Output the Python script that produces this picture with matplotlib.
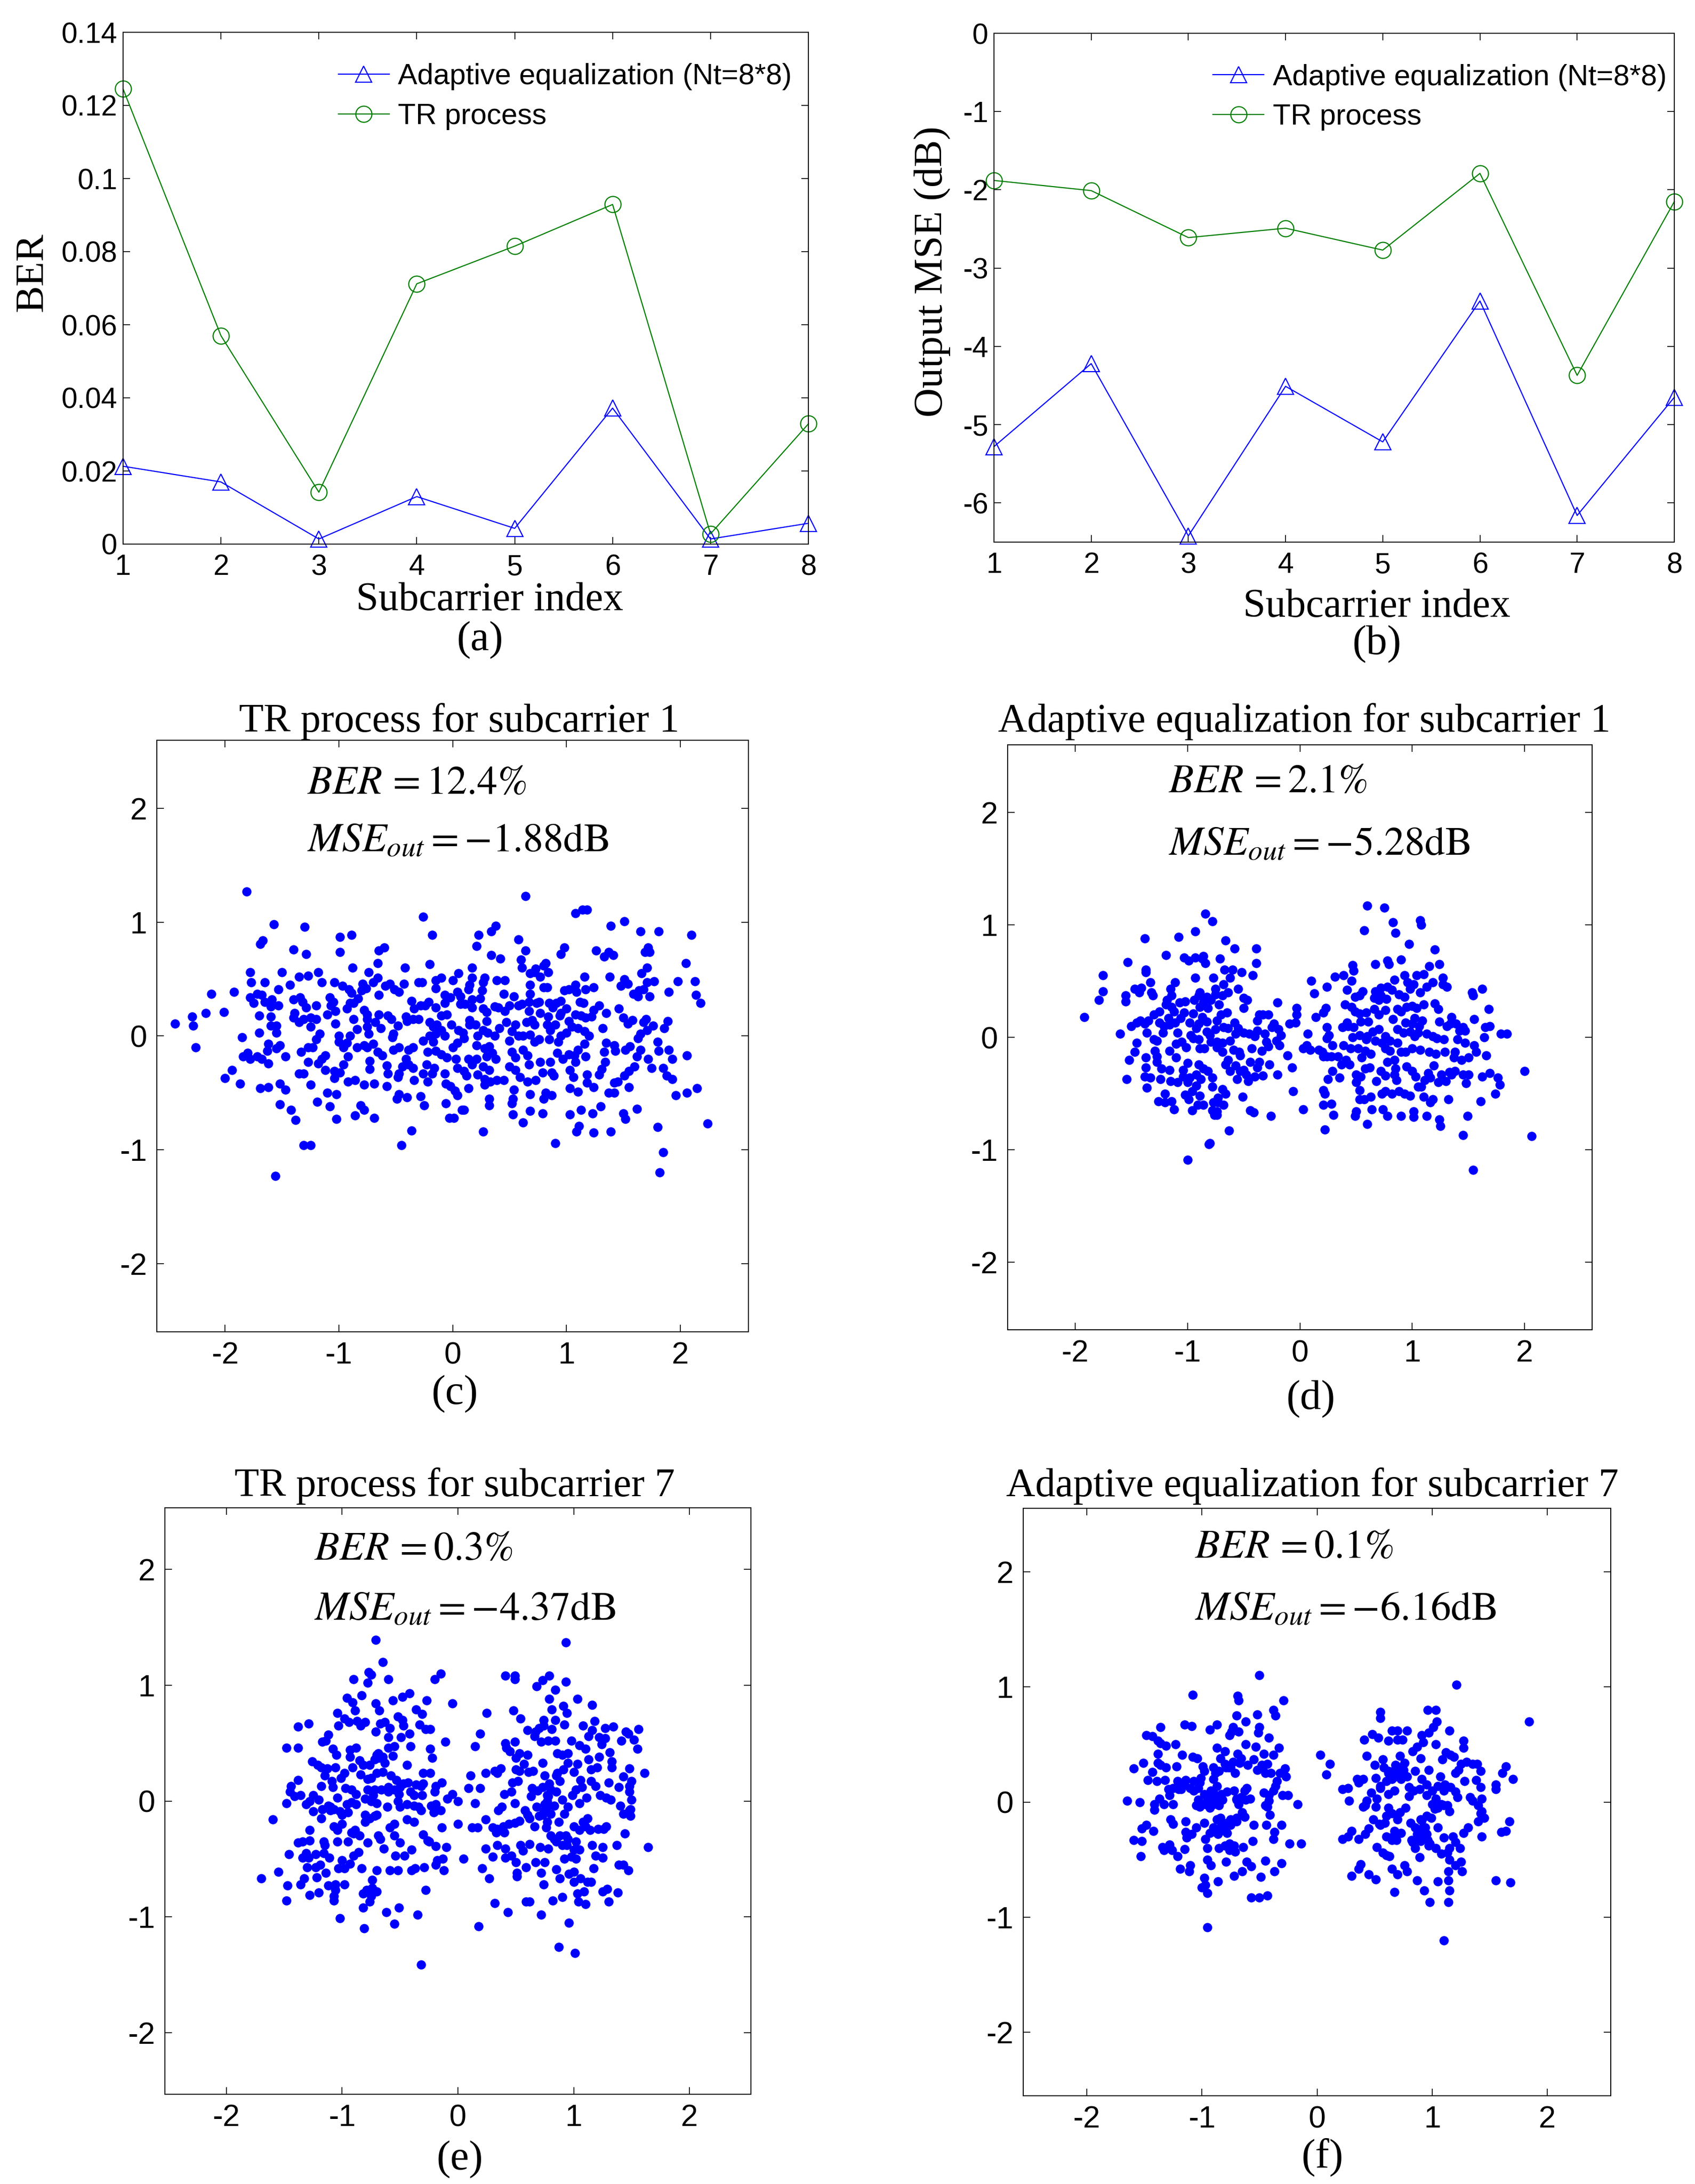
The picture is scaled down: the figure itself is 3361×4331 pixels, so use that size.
import matplotlib as mpl
mpl.use("Agg")
from matplotlib import pyplot as plt

W = 3361
H = 4331

subcarrier = [1, 2, 3, 4, 5, 6, 7, 8]
ber_adaptive = [0.0213, 0.017, 0.0014, 0.013, 0.0043, 0.0372, 0.0014, 0.0057]
ber_tr = [0.1245, 0.057, 0.0142, 0.0712, 0.0815, 0.0929, 0.0028, 0.0329]
mse_adaptive = [-5.28, -4.22, -6.42, -4.51, -5.22, -3.42, -6.16, -4.65]
mse_tr = [-1.88, -2.01, -2.61, -2.49, -2.77, -1.79, -4.37, -2.15]

ber_ticks = [0, 0.02, 0.04, 0.06, 0.08, 0.1, 0.12, 0.14]
ber_tick_labels = ["0", "0.02", "0.04", "0.06", "0.08", "0.1", "0.12", "0.14"]
mse_ticks = [-6, -5, -4, -3, -2, -1, 0]
scatter_ticks = [-2, -1, 0, 1, 2]

tr_sub1 = [(-1.81,1.27),(.64,1.23),(1.08,1.08),(1.14,1.11),(1.18,1.11),(-1.57,.98),(-1.3,.96),(-.26,1.05),(1.51,1.01),(1.39,.97),(.38,.97),(.34,.92),(1.65,.92),(1.81,.92),(2.1,.89),
(-1.67,.84),(-1.69,.81),(-.99,.87),(-.89,.89),(-.18,.89),(.23,.89),(.58,.85),(.21,.79),(.98,.78),(.95,.72),(-1.4,.76),(-1.29,.72),(-.99,.74),(-.65,.75),(-.6,.78),(.64,.75),(1.26,.75),(1.37,.74),(1.33,.7),(1.41,.71),(1.69,.74),(1.72,.78),(1.73,.74),(.34,.71),(.42,.68),(2.05,.64),
(-1.78,.56),(-1.5,.56),(-1.35,.52),(-1.27,.53),(-1.18,.56),(-.88,.6),(-.74,.56),(-.66,.64),(-.42,.6),(-.2,.63),(.17,.6),(.61,.6),(.73,.59),(.8,.62),(.82,.64),(.68,.55),(.72,.56),(.84,.56),(1.16,.52),(1.38,.52),(1.51,.5),(1.54,.46),(1.66,.55),(1.71,.6),(.77,.52),(.6,.67),
(-1.77,.47),(-1.65,.47),(-1.53,.41),(-1.43,.45),(-1.15,.47),(-1.04,.47),(-.97,.44),(-.91,.41),(-.89,.38),(-.79,.46),(-.8,.4),(-.76,.42),(-.7,.47),(-.66,.51),(-.59,.44),(-.55,.46),(-.51,.41),(-.47,.39),(-.43,.46),(-.3,.47),(-.27,.47),(-.15,.49),(-.1,.51),(-.15,.42),(0,.49),(.05,.55),(.17,.51),(.15,.45),(.14,.41),(.27,.47),(.28,.51),(.26,.4),(.39,.49),(.46,.49),(.45,.37),(.68,.45),(.68,.37),(.8,.43),(.83,.43),(.98,.4),(1.02,.41),(1.08,.45),(1.09,.39),(1.17,.41),(1.24,.43),(1.48,.44),(1.59,.37),(1.63,.35),(1.64,.4),(1.68,.41),(1.73,.35),(1.71,.47),(1.77,.48),(1.9,.39),(1.98,.48),(2.13,.48),(2.14,.36),(2.18,.29),
(-2.12,.37),(-1.92,.39),(-2.17,.2),(-2.01,.21),(-2.29,.17),(-2.44,.11),(-2.28,.09),(-2.26,-.1),
(-1.78,.34),(-1.72,.37),(-1.68,.36),(-1.65,.3),(-1.75,.29),(-1.6,.26),(-1.59,.32),(-1.53,.27),(-1.4,.32),(-1.34,.34),(-1.32,.3),(-1.29,.25),(-1.2,.27),(-1.08,.34),(-1.07,.27),(-1.05,.3),(-1.03,.22),(-.93,.24),(-.9,.29),(-.87,.29),(-.83,.33),(-.78,.23),(-.75,.19),(-.65,.36),(-.36,.31),(-.34,.24),(-.28,.27),(-.24,.27),(-.21,.3),(-.15,.25),(-.07,.36),(-.07,.29),(.04,.39),(-.02,.34),(.07,.35),(.07,.28),(.11,.28),(.17,.32),(.17,.25),(.24,.33),(.27,.24),(.37,.26),(.4,.25),(.46,.22),(.5,.27),(.54,.35),(.58,.27),(.61,.28),(.67,.3),(.67,.22),(.74,.29),(.76,.3),(.85,.29),(.88,.25),(.91,.29),(.95,.31),(1,.24),(.95,.2),(1.12,.3),(1.15,.29),(1.24,.23),(1.29,.27),(1.46,.24),
(-1.7,.18),(-1.6,.17),(-1.39,.2),(-1.4,.16),(-1.35,.12),(-1.31,.15),(-1.25,.16),(-1.2,.15),(-1.1,.19),(-1.03,.11),(-1.7,.03),(-1.6,.09),(-1.55,.09),(-1.55,.03),(-1.25,.08),(-1.17,.02),(-1,.0),(-.87,.15),(-.84,.06),(-.9,.0),(-.75,.15),(-.75,.08),(-.74,.02),(-.68,.12),(-.65,.19),(-.63,.07),(-.57,.18),(-.54,.15),(-.48,.09),(-.52,.02),(-.41,.17),(-.4,.13),(-.35,.15),(-.3,.15),(-.2,.12),(-.17,.08),(-.14,.1),(-.1,.18),(-.05,.19),(-.01,.1),(-.1,.05),(-.15,.02),(-.2,0),(.05,.05),(.09,.03),(.15,.14),(.15,.1),(.2,.1),(.22,0),(.3,.13),(.3,.21),(.27,.05),(.31,.03),(.37,0),(.41,.07),(.47,.12),(.52,.04),(.55,.1),(.58,0),(.62,.0),(.65,.12),(.7,.14),(.68,.01),(.72,.1),(.77,.2),(.84,.17),(.83,.1),(.86,.05),(.9,.1),(.95,.0),(.94,.18),(1.02,.13),(1.0,.03),(1.05,.08),(1.08,.19),(1.13,.18),(1.17,.16),(1.22,.17),(1.1,.07),(1.16,.04),(1.2,0),(1.32,.07),(1.35,.2),(1.5,.16),(1.54,.11),(1.58,.14),(1.68,.12),(1.7,.15),(1.71,.05),(1.76,.09),(1.65,.02),(1.86,.07),(1.89,.13),
(-1.85,-.01),(-1.84,-.18),(-1.8,-.15),(-1.78,-.2),(-1.72,-.18),(-1.68,-.2),(-1.62,-.07),(-1.63,-.13),(-1.55,-.11),(-1.52,-.08),(-1.47,-.18),(-1.33,-.14),(-1.23,-.1),(-1.2,-.03),(-1.27,-.1),(-1.15,-.2),(-1.12,-.17),(-1.0,-.05),(-.96,-.1),(-.93,-.06),(-.92,-.18),(-.84,-.1),(-.78,-.08),(-.75,-.1),(-.7,-.07),(-.66,-.14),(-.62,-.17),(-.53,-.01),(-.52,-.12),(-.47,-.1),(-.39,-.12),(-.35,-.1),(-.41,-.2),(-.26,-.04),(-.22,-.14),(-.17,-.05),(-.15,-.13),(-.1,-.16),(-.05,-.19),(-.07,0),(0,-.1),(.04,-.06),(.1,-.02),(.03,-.2),(.14,-.2),(.21,-.08),(.28,-.11),(.32,-.09),(.35,-.15),(.38,-.2),(.3,-.18),(.5,-.04),(.52,-.14),(.55,-.19),(.62,-.12),(.66,-.17),(.72,-.05),(.76,-.03),(.85,-.03),(.93,-.05),(.92,-.15),(.97,-.2),(1.02,-.16),(1.07,-.17),(1.1,-.12),(1.16,-.07),(1.17,-.18),(1.33,-.14),(1.35,-.06),(1.42,-.08),(1.43,-.13),(1.52,-.12),(1.56,-.09),(1.63,-.02),(1.62,-.18),(1.65,-.12),(1.72,-.2),(1.8,-.05),(1.81,-.13),(1.9,-.12),(1.93,-.2),(2.06,-.17),
(-2,-.37),(-1.94,-.3),(-1.87,-.42),(-1.69,-.46),(-1.62,-.24),(-1.62,-.45),(-1.52,-.42),(-1.47,-.47),(-1.35,-.33),(-1.31,-.33),(-1.27,-.23),(-1.25,-.43),(-1.18,-.24),(-1.12,-.3),(-1.04,-.31),(-1.04,-.37),(-.99,-.32),(-.96,-.25),(-.92,-.4),(-.86,-.39),(-.78,-.43),(-.73,-.29),(-.73,-.22),(-.69,-.42),(-.58,-.26),(-.57,-.33),(-.58,-.44),(-.48,-.36),(-.47,-.33),(-.44,-.27),(-.39,-.25),(-.35,-.28),(-.34,-.39),(-.26,-.33),(-.23,-.25),(-.22,-.4),(-.18,-.33),(-.16,-.28),(-.07,-.33),(-.06,-.42),(-.02,-.44),(.02,-.48),(.04,-.28),(.1,-.31),(.12,-.35),(.14,-.46),(.17,-.25),(.21,-.2),(.22,-.34),(.27,-.27),(.28,-.38),(.28,-.43),(.33,-.4),(.32,-.3),(.39,-.39),(.45,-.39),(.5,-.27),(.55,-.3),(.59,-.36),(.66,-.4),(.67,-.25),(.73,-.39),(.77,-.23),(.79,-.32),(.87,-.32),(.86,-.23),(.89,-.35),(1.03,-.3),(1.08,-.23),(1.06,-.36),(1.03,-.46),(1.1,-.49),(1.18,-.34),(1.18,-.41),(1.24,-.45),(1.29,-.34),(1.31,-.29),(1.34,-.23),(1.37,-.5),(1.42,-.41),(1.42,-.5),(1.45,-.4),(1.51,-.35),(1.55,-.31),(1.55,-.45),(1.6,-.27),(1.75,-.28),(1.88,-.35),(1.93,-.38),(1.85,-.28),
(-1.52,-.6),(-1.42,-.65),(-1.38,-.74),(-1.31,-.96),(-1.25,-.96),(-1.1,-.5),(-1.08,-.62),(-1.19,-.58),(-1.02,-.51),(-1.02,-.73),(-.86,-.7),(-.81,-.61),(-.78,-.65),(-.69,-.72),(-.49,-.55),(-.47,-.51),(-.4,-.54),(-.36,-.83),(-.45,-.96),(-.28,-.53),(-.25,-.61),(-.06,-.59),(-.03,-.72),(.01,-.72),(.04,-.52),(.08,-.65),(.1,-.65),(.27,-.84),(.32,-.55),(.32,-.61),(.52,-.59),(.54,-.47),(.53,-.55),(.53,-.69),(.62,-.76),(.68,-.51),(.68,-.66),(.8,-.55),(.79,-.68),(.82,-.5),(.87,-.52),(.9,-.94),(1.03,-.69),(1.09,-.84),(1.11,-.79),(1.13,-.65),(1.23,-.68),(1.24,-.85),(1.3,-.62),(1.39,-.84),(1.5,-.68),(1.52,-.73),(1.62,-.64),(1.8,-.8),(1.85,-1.02),(1.82,-1.2),(1.96,-.52),(2.06,-.5),(2.15,-.46),(2.24,-.77),(-1.56,-1.23)]

ae_sub1 = [(-1.92,.18),(-1.79,.33),(-1.75,.41),(-1.75,.55),(-1.6,.03),(-1.55,.37),(-1.55,.32),(-1.53,.67),(-1.54,-.37),(-1.52,-.2),(-1.5,.1),(-1.47,.43),(-1.47,-.13),(-1.45,-.05),(-1.43,.4),(-1.41,.44),(-1.38,.88),(-1.37,.6),(-1.37,.58),(-1.33,.49),(-1.32,.4),(-1.31,.37),(-1.45,.13),(-1.42,.15),(-1.38,.12),(-1.35,.15),(-1.36,.04),(-1.37,-.18),(-1.37,-.27),(-1.38,-.35),(-1.36,-.45),(-1.33,-.36),(-1.3,-.02),(-1.3,.2),(-1.29,-.12),(-1.27,-.03),(-1.27,-.17),(-1.27,-.22),(-1.26,-.57),(-1.25,.23),(-1.24,-.37),(-1.23,-.28),(-1.25,.13),(-1.22,.04),(-1.21,.1),(-1.2,-.5),(-1.2,-.58),(-1.19,.29),(-1.18,.33),(-1.19,.73),(-1.17,.17),(-1.16,.11),(-1.16,-.12),(-1.16,-.29),(-1.15,-.39),(-1.14,-.57),(-1.14,.27),(-1.15,.43),(-1.14,.37),(-1.12,-.64),(-1.12,.23),(-1.11,.13),(-1.11,.49),(-1.1,-.06),(-1.1,-.18),(-1.09,-.4),(-1.09,.04),(-1.08,.89),(-1.07,.31),(-1.06,.17),(-1.05,-.04),(-1.04,-.29),(-1.04,-.35),(-1.02,-.51),(-1.03,.71),(-1.03,.22),(-1.02,.32),(-1.01,-.09),(-1,-.23),(-1,-.4),(-.99,-.55),(-.98,.13),(-.99,.68),(-.98,-.36),(-.97,.02),(-.96,-.48),(-.96,-.65),(-.95,-.01),(-.95,.21),(-.94,.33),(-.93,.71),(-.93,.94),(-.93,.53),(-.92,-.33),(-.9,-.02),(-.9,.12),(-.9,-.24),(-.89,-.1),(-.92,.08),(-.92,-.43),(-.91,-.6),(-.89,-.52),(-.89,.27),(-.89,.4),(-.9,.37),(-.88,-.37),(-.87,.7),(-.87,.18),(-.86,.31),(-.86,-.6),(-.86,.72),(-.86,-.28),(-.85,-.1),(-.84,.66),(-.84,1.1),(-.83,.05),(-.83,.14),(-.83,.36),(-.82,.26),(-.82,-.3),(-.81,-.95),(-.8,-.94),(-.8,.02),(-.79,-.04),(-.79,.33),(-.78,1.03),(-.78,-.36),(-.78,-.44),(-.78,-.65),(-.77,-.58),(-.77,.53),(-.76,-.69),(-.75,.07),(-.75,.38),(-.75,.43),(-.74,-.04),(-.74,.15),(-.74,-.09),(-.73,-.58),(-.73,-.54),(-.74,-.66),(-.74,-.69),(-.72,.29),(-.71,.7),(-.7,.2),(-.69,-.13),(-.69,-.46),(-.69,-.05),(-.68,.09),(-.69,.37),(-.68,.47),(-.68,-.6),(-.67,.6),(-.66,.86),(-.66,-.24),(-.66,-.5),(-.65,.22),(-.64,-.2),(-.64,.08),(-.64,.4),(-.63,-.83),(-.62,.53),(-.62,-.3),(-.62,-.03),(-.6,.6),(-.59,-.11),(-.58,.13),(-.58,.79),(-.57,.03),(-.57,-.25),(-.56,-.37),(-.55,.43),(-.55,.08),(-.54,-.13),(-.53,-.3),(-.53,-.16),(-.52,.58),(-.51,-.53),(-.5,.04),(-.5,-.29),(-.5,.26),(-.5,.35),(-.48,-.33),(-.47,.33),(-.45,.03),(-.46,-.39),(-.44,-.22),(-.44,-.65),(-.43,-.1),(-.42,.55),(-.41,-.67),(-.4,-.35),(-.4,.01),(-.39,.66),(-.39,.79),(-.38,.06),(-.38,.15),(-.38,-.27),(-.36,.2),(-.36,-.22),(-.34,-.12),(-.33,-.34),(-.33,.2),(-.31,.03),(-.3,-.04),(-.28,.2),(-.28,-.08),(-.27,-.24),(-.26,-.7),(-.25,.09),(-.23,.12),(-.21,-.03),(-.2,-.33),(-.2,.31),(-.19,.07),(-.18,-.07),(-.17,.02),(-.11,-.16),(-.09,.12),(-.07,-.27),(-.06,-.48),(-.04,.13),(-.03,.2),(-.03,.26),(.03,-.1),(.03,-.64),(.07,.03),(.06,-.07),(.09,-.11),(.1,.5),(.13,.39),(.14,.18),(.17,-.11),(.2,-.13),(.21,.22),(.21,-.17),(.21,-.47),(.21,-.6),(.22,-.5),(.23,.26),(.24,-.17),(.24,-.01),(.24,.09),(.24,.45),(.25,-.37),(.26,.02),(.28,-.17),(.28,-.59),(.29,-.3),(.29,-.07),(.3,-.69),(.31,.54),(.34,-.17),(.35,-.36),(.37,-.24),(.38,.09),(.39,-.07),(.39,.55),(.4,.29),(.41,-.2),(.42,.13),(.42,.42),(.43,.1),(.44,-.24),(.45,-.1),(.46,.27),(.46,.5),(.47,.64),(.47,0),(.48,.09),(.48,.59),(.49,.23),(.49,.36),(.5,-.66),(.49,-.7),(.5,-.4),(.5,-.33),(.52,-.1),(.53,.37),(.53,.02),(.53,.21),(.53,-.47),(.53,-.55),(.54,-.35),(.54,.14),(.55,-.18),(.56,.41),(.57,.95),(.57,-.55),(.58,-.28),(.58,-.12),(.59,-.02),(.59,.22),(.6,1.17),(.6,-.77),(.6,.01),(.61,.14),(.62,-.27),(.63,-.53),(.63,-.15),(.64,-.64),(.65,.05),(.66,.25),(.66,.35),(.67,.65),(.67,-.03),(.67,.41),(.68,-.39),(.7,.33),(.7,.2),(.7,.07),(.72,.44),(.72,.37),(.72,-.3),(.73,-.05),(.73,-.5),(.74,-.64),(.75,1.15),(.76,.24),(.76,.01),(.76,-.1),(.76,-.48),(.76,-.34),(.77,.34),(.78,.45),(.78,-.7),(.78,.68),(.78,-.22),(.79,.65),(.8,-.03),(.8,-.12),(.82,.42),(.82,-.5),(.83,1.02),(.83,.16),(.84,.51),(.84,-.2),(.84,-.33),(.85,.93),(.85,-.28),(.86,-.38),(.87,.07),(.87,.25),(.87,-.05),(.88,.38),(.88,-.48),(.9,.69),(.9,.23),(.9,-.7),(.9,-.13),(.92,.04),(.93,.55),(.93,.36),(.93,-.5),(.94,-.13),(.94,.13),(.95,-.26),(.95,.27),(.96,.49),(.97,.83),(.98,-.52),(.98,.05),(.98,.43),(1,.28),(1,-.3),(1,-.1),(1,.12),(1.01,.47),(1.01,-.66),(1.01,-.71),(1.02,.01),(1.02,.17),(1.03,-.35),(1.04,.26),(1.04,.55),(1.05,.04),(1.05,-.44),(1.06,.1),(1.07,1.04),(1.07,-.11),(1.07,.4),(1.08,1),(1.08,-.44),(1.09,.15),(1.1,.29),(1.1,-.53),(1.1,.56),(1.11,-.38),(1.13,-.7),(1.13,.03),(1.13,.45),(1.14,-.32),(1.15,-.13),(1.15,.63),(1.16,-.36),(1.16,-.58),(1.18,.49),(1.18,-.55),(1.18,.01),(1.19,-.25),(1.2,.78),(1.2,.3),(1.21,-.15),(1.22,-.01),(1.23,.25),(1.24,.65),(1.23,-.4),(1.24,.14),(1.24,-.73),(1.25,-.79),(1.26,-.33),(1.27,.47),(1.27,.53),(1.28,-.02),(1.29,-.13),(1.3,-.39),(1.31,.45),(1.31,.1),(1.32,-.55),(1.33,-.31),(1.34,.12),(1.35,-.33),(1.35,.18),(1.37,-.18),(1.38,-.13),(1.38,-.3),(1.39,.12),(1.4,-.02),(1.42,.06),(1.44,-.2),(1.45,.09),(1.45,-.87),(1.45,-.33),(1.47,.06),(1.47,-.05),(1.48,-.41),(1.49,-.7),(1.5,-.33),(1.5,-.18),(1.53,.4),(1.54,.37),(1.54,-1.18),(1.55,-.07),(1.55,.16),(1.57,-.13),(1.61,-.57),(1.62,.43),(1.62,-.35),(1.64,0),(1.65,.09),(1.66,-.16),(1.68,.25),(1.69,.1),(1.69,-.32),(1.74,-.5),(1.76,-.36),(1.78,-.42),(1.79,.03),(1.84,.03),(2,-.3),(2.06,-.88),(-1,-1.09),(.22,-.82)]

tr_sub7 = [(-1.7,-.67),(-1.6,-.16),(-1.55,-.61),(-1.48,-.02),(-1.48,.46),(-1.46,-.46),(-1.48,-.86),(-1.47,-.73),(-1.45,.08),(-1.44,.13),(-1.41,.04),(-1.38,.46),(-1.38,.64),(-1.38,-.36),(-1.38,.18),(-1.36,.05),(-1.36,-.72),(-1.34,-.35),(-1.34,-.49),(-1.33,-.67),(-1.31,-.03),(-1.31,-.45),(-1.3,-.57),(-1.29,-.49),(-1.29,.67),(-1.28,-.25),(-1.28,.0),(-1.28,-.34),(-1.28,-.81),(-1.26,.34),(-1.25,.05),(-1.25,-.09),(-1.23,-.46),(-1.23,-.57),(-1.22,-.66),(-1.21,.31),(-1.2,.01),(-1.2,-.79),(-1.19,-.55),(-1.18,.29),(-1.18,.13),(-1.18,-.15),(-1.17,.51),(-1.17,-.07),(-1.16,-.35),(-1.16,-.45),(-1.15,.22),(-1.15,-.38),(-1.14,.52),(-1.14,-.62),(-1.13,.28),(-1.12,-.73),(-1.12,-.04),(-1.12,.57),(-1.11,-.49),(-1.1,-.08),(-1.09,.17),(-1.08,.45),(-1.08,.12),(-1.07,-.07),(-1.07,-.82),(-1.07,-.86),(-1.06,.29),(-1.06,-.72),(-1.06,-.77),(-1.05,.4),(-1.04,.76),(-1.04,.03),(-1.04,-.25),(-1.04,-.35),(-1.03,.65),(-1.03,-.58),(-1.02,-1.01),(-1.02,-.09),(-1.01,.2),(-1,-.51),(-1,-.2),(-.98,.24),(-.98,.71),(-.98,-.58),(-.98,-.72),(-.97,.11),(-.96,-.03),(-.96,.89),(-.95,-.35),(-.94,.68),(-.93,-.54),(-.93,.38),(-.93,.44),(-.92,-.27),(-.92,.1),(-.92,-.01),(-.91,.29),(-.91,.85),(-.9,1.05),(-.9,-.47),(-.89,.78),(-.89,-.25),(-.88,.46),(-.88,-.03),(-.88,.06),(-.87,.69),(-.86,-.44),(-.85,-.3),(-.84,.23),(-.84,.65),(-.83,-.58),(-.83,.91),(-.82,.31),(-.82,-.8),(-.82,-.92),(-.81,-1.1),(-.8,-.18),(-.8,.02),(-.8,.68),(-.79,-.77),(-.78,.19),(-.78,1.02),(-.78,-.36),(-.77,1.11),(-.76,-.15),(-.76,.31),(-.76,-.87),(-.75,1.09),(-.75,-.82),(-.74,-.75),(-.74,-.68),(-.73,.05),(-.72,.36),(-.72,.1),(-.72,-.13),(-.71,.6),(-.71,.84),(-.7,-.02),(-.7,.24),(-.7,-.6),(-.7,-.78),(-.69,-.3),(-.69,.41),(-.68,.78),(-.68,.37),(-.67,.67),(-.67,-.33),(-.66,.1),(-.65,.25),(-.65,.38),(-.64,-.41),(-.63,.33),(-.63,.68),(-.62,-.96),(-.61,-.05),(-.6,1.05),(-.6,.55),(-.6,.46),(-.6,.08),(-.59,.63),(-.59,-.23),(-.59,-.6),(-.58,.22),(-.71,1.39),(-.56,.39),(-.56,.87),(-.55,.47),(-.55,-.2),(-.55,-.3),(-.54,-.47),(-.53,.18),(-.52,-.6),(-.52,.73),(-.51,-.92),(-.51,.06),(-.5,-.05),(-.5,-.36),(-.49,.55),(-.48,.9),(-.48,.7),(-.47,.15),(-.47,.65),(-.65,1.2),(-.46,-.47),(-.44,-.16),(-.44,.31),(-.44,-.03),(-.43,.16),(-.42,.93),(-.42,.58),(-.41,.47),(-.41,.08),(-.4,-.42),(-.4,-.6),(-.38,-.04),(-.38,.05),(-.38,-.18),(-.37,-.58),(-.36,.14),(-.36,.79),(-.35,-.98),(-.34,-.05),(-.55,-1.06),(-.32,-.08),(-.31,.05),(-.3,-.29),(-.3,.24),(-.3,.15),(-.29,-.57),(-.28,-.77),(-.27,.87),(-.26,-.34),(-.24,.24),(-.24,.62),(-.23,-.04),(-.2,.08),(-.19,-.39),(-.19,-.55),(-.18,-.51),(-.32,-1.41),(-.31,.75),(-.33,.66),(-.25,-.35),(-.32,.13),(-.28,.62),(-.22,.37),(-.24,.45),(-.19,.13),(-.19,-.03),(-.2,-.09),(-.21,-.1),(-.2,1.05),(-.15,1.1),(-.15,-.08),(-.14,.16),(-.14,-.23),(-.13,-.5),(-.12,-.6),(-.11,.51),(-.1,-.4),(-.09,.02),(-.05,.84),(-.05,.06),(0,0),(0,-.2),(.05,-.5),(.09,.11),(.11,.22),(.12,-.23),(.15,.47),(.15,-.02),(.17,-.23),(.19,.11),(.19,.58),(.18,-1.08),(.21,-.58),(.24,.24),(.24,-.16),(.24,-.41),(.25,.76),(.27,-.67),(.3,-.48),(.3,-.23),(.32,-.88),(.32,.26),(.33,-.27),(.34,.24),(.34,-.24),(.34,-.38),(.35,-.08),(.37,.28),(.38,-.05),(.39,-.22),(.4,.06),(.4,-.27),(.41,1.08),(.41,.5),(.42,.46),(.41,-.41),(.41,-.49),(.43,-.96),(.44,-.2),(.45,.43),(.46,.08),(.46,-.47),(.47,.16),(.48,.78),(.49,1.08),(.49,1.05),(.49,.51),(.49,-.19),(.5,-.53),(.49,-.02),(.5,.27),(.5,.37),(.51,-.62),(.51,-.65),(.52,.17),(.53,.26),(.53,.41),(.53,-.17),(.54,-.38),(.54,.71),(.56,-.43),(.57,.32),(.58,-.08),(.59,-.57),(.59,-.87),(.6,.4),(.6,.61),(.6,-.12),(.61,.25),(.62,-.87),(.62,-.15),(.62,-.37),(.63,.04),(.64,.11),(.65,.26),(.66,-.22),(.66,.56),(.67,-.53),(.67,.6),(.68,-.05),(.68,.99),(.69,.09),(.7,-.13),(.7,.63),(.71,-.4),(.72,.51),(.72,-.98),(.72,-.62),(.73,1.04),(.73,.33),(.73,.12),(.74,.7),(.74,-.09),(.74,.65),(.74,-.72),(.75,-.53),(.75,.22),(.76,-.23),(.77,-.05),(.77,0),(.78,.52),(.78,.04),(.78,-.41),(.79,1.08),(.79,.88),(.79,.15),(.8,-.11),(.8,-.3),(.81,.62),(.81,.79),(.82,-.86),(.83,-.04),(.83,-.33),(.84,.7),(.84,.52),(.84,.96),(.85,.08),(.85,-.59),(.86,.24),(.86,.41),(.87,-.18),(.87,-1.26),(.88,-.3),(.88,-.67),(.9,.4),(.9,.01),(.9,-.83),(.91,.27),(.91,.82),(.92,.66),(.92,-.5),(.92,-.11),(.93,-.3),(.93,1.37),(.94,.76),(.94,-.38),(.93,1.03),(.95,.33),(.95,-.05),(.95,.41),(.96,-.63),(.96,-1.05),(.98,.52),(.98,-.48),(.99,.05),(1,.25),(1,-.61),(1,-.7),(1,-.22),(1.02,-.5),(1.02,-.35),(1.02,.1),(1.03,.88),(1.03,.32),(1.01,-1.31),(1.03,-.8),(1.04,-.87),(1.05,.48),(1.05,-.02),(1.05,-.42),(1.06,.18),(1.06,-.67),(1.07,.12),(1.08,.65),(1.08,-.18),(1.09,-.78),(1.1,-.89),(1.1,.45),(1.11,.03),(1.12,-.15),(1.12,-.7),(1.13,.56),(1.13,.36),(1.14,-.25),(1.15,.17),(1.15,.27),(1.15,-.7),(1.16,.83),(1.16,.61),(1.16,-.38),(1.17,-.58),(1.18,.69),(1.19,.13),(1.19,-.47),(1.2,.29),(1.21,-.24),(1.22,.55),(1.22,.38),(1.23,.05),(1.24,.49),(1.25,-.4),(1.25,-.49),(1.25,-.78),(1.26,-.24),(1.27,.63),(1.27,.54),(1.28,.03),(1.28,-.22),(1.29,-.76),(1.3,-.87),(1.3,.16),(1.31,.42),(1.32,.01),(1.33,.34),(1.33,.29),(1.34,.64),(1.37,-.38),(1.38,-.79),(1.39,-.55),(1.39,.12),(1.4,-.04),(1.41,.52),(1.43,-.11),(1.44,-.28),(1.45,.6),(1.47,.58),(1.47,-.6),(1.48,-.08),(1.49,-.13),(1.5,.17),(1.43,-.55),(1.43,.21),(1.48,.08),(1.48,.13),(1.49,-.07),(1.5,.01),(1.48,.28),(1.52,.53),(1.61,.24),(1.55,.45),(1.56,.62),(1.64,-.4),(-1.1,-.05),(-.7,-.12),
(.77,.05),(.8,.1),(.75,-.03),(.73,-.12),(.77,-.18),(.85,-.35),(.9,-.38),(.95,-.33),(1,-.42),(1.05,-.25),(1.1,-.22),(.85,.22),(.88,.17),(-.6,.12),(-.55,.1),(-.5,.12),(-.52,.0),(-.8,-.12),(-.75,.0),(-.78,.1),(-.95,-.1),(-1,-.12),(-1.07,-.22),(-.9,-.28),(-.85,.35),(-.75,.2),(-.7,.4)]

ae_sub7 = [(-1.65,.01),(-1.54,0),(-1.59,.29),(-1.59,-.33),(-1.51,.34),(-1.52,-.34),(-1.53,-.47),(-1.52,-.23),(-1.48,.58),(-1.48,-.2),(-1.47,.19),(-1.43,.57),(-1.43,.26),(-1.42,-.25),(-1.41,-.07),(-1.41,-.02),(-1.39,.18),(-1.38,.53),(-1.38,.42),(-1.38,.34),(-1.37,.03),(-1.36,.51),(-1.36,.65),(-1.36,.32),(-1.34,-.39),(-1.33,-.02),(-1.32,.19),(-1.33,-.42),(-1.31,.49),(-1.31,.3),(-1.29,.11),(-1.28,-.37),(-1.28,.06),(-1.27,-.15),(-1.26,-.42),(-1.25,-.02),(-1.25,-.19),(-1.23,.5),(-1.22,.31),(-1.21,.18),(-1.21,-.47),(-1.19,-.58),(-1.18,.11),(-1.17,.41),(-1.15,.67),(-1.15,-.41),(-1.14,.19),(-1.14,-.26),(-1.14,-.17),(-1.13,-.31),(-1.11,-.6),(-1.1,.12),(-1.1,-.55),(-1.09,-.28),(-1.08,.39),(-1.07,.18),(-1.07,.1),(-1.05,-.22),(-1.04,.38),(-1.03,.12),(-1.02,.17),(-1.02,-.04),(-1,-.02),(-.99,.31),(-1.01,.21),(-1,-.74),(-1.08,.93),(-1.09,.66),(-.98,.27),(-.98,-.18),(-.97,-.32),(-.98,-.66),(-.97,-.72),(-.95,-.4),(-.95,-.5),(-.95,-.79),(-.93,.63),(-.93,.04),(-.92,.1),(-.92,-.55),(-.91,-.02),(-.9,.2),(-.88,-.26),(-.88,.05),(-.87,.67),(-.87,.14),(-.87,.47),(-.86,-.69),(-.85,-.03),(-.84,.38),(-.84,-.14),(-.84,-.25),(-.83,.07),(-.82,.02),(-.8,.44),(-.79,.3),(-.79,-.52),(-.78,-.27),(-.78,.09),(-.76,.58),(-.76,-.36),(-.75,-.2),(-.75,.3),(-.74,.61),(-.73,.65),(-.73,.35),(-.72,-.64),(-.71,.25),(-.71,-.43),(-.7,.75),(-.7,.03),(-.7,-.17),(-.69,.42),(-.68,.61),(-.67,.34),(-.66,.38),(-.65,-.09),(-.65,-.6),(-.64,-.39),(-.63,.1),(-.63,-.13),(-.62,.5),(-.61,.12),(-.61,-.52),(-.6,.32),(-.58,.03),(-.57,-.56),(-.56,-.34),(-.55,.37),(-.55,-.2),(-.53,.48),(-.52,.28),(-.51,.6),(-.5,.65),(-.69,.92),(-.68,.88),(-.49,-.65),(-.48,.32),(-.46,.42),(-.45,.25),(-.43,.33),(-.43,-.04),(-.42,.56),(-.41,-.11),(-.4,.25),(-.38,.41),(-.38,-.32),(-.37,-.6),(-.37,-.26),(-.36,.14),(-.36,.75),(-.35,.18),(-.33,.47),(-.32,.25),(-.31,-.2),(-.31,-.53),(-.3,.06),(-.28,.29),(-.27,.22),(-.25,.06),(-.24,-.36),(-.17,-.02),(-.14,-.36),(-.5,1.1),(-.47,.31),(-.46,.08),(-.42,.06),(-.38,.1),(-.29,.88),(-.38,.8),(-.43,-.81),(-.5,-.83),(-.57,-.83),(-.44,-.2),(-.45,-.51),(-.95,-1.09),(-.52,.76),(-.62,.7),(-.45,-.03),(-.42,.01),
(.03,.41),(.11,.33),(.08,.24),(.22,.11),(.27,.12),(.22,-.32),(.27,-.3),(.3,-.25),(.3,-.64),(.28,.01),(.35,.2),(.36,.17),(.36,-.58),(.38,-.54),(.36,-.32),(.4,.2),(.4,-.04),(.42,-.28),(.42,-.03),(.41,.54),(.43,.4),(.43,.01),(.45,-.23),(.45,-.63),(.47,.08),(.48,.59),(.5,.32),(.49,-.15),(.51,.21),(.51,-.67),(.55,.73),(.51,-.04),(.52,.03),(.52,-.39),(.53,.56),(.54,-.19),(.55,.14),(.55,.12),(.55,.78),(.57,-.44),(.57,.37),(.58,.3),(.59,-.18),(.6,.18),(.6,-.46),(.62,.07),(.62,.27),(.62,.53),(.62,-.05),(.63,-.47),(.64,-.31),(.65,.62),(.65,-.58),(.67,-.78),(.67,-.25),(.67,.1),(.68,.22),(.68,.29),(.69,-.33),(.7,.62),(.7,.54),(.7,-.63),(.71,.27),(.72,-.09),(.72,.4),(.73,.2),(.73,-.27),(.74,.54),(.75,.28),(.76,.34),(.76,-.55),(.77,-.05),(.78,.62),(.78,-.6),(.8,.13),(.8,.05),(.81,-.18),(.82,-.33),(.83,.44),(.83,-.35),(.84,.1),(.85,-.4),(.85,.27),(.87,.48),(.87,-.68),(.89,.11),(.89,-.48),(.9,.38),(.9,-.3),(.91,.58),(.91,-.16),(.91,.2),(.92,.52),(.93,-.26),(.93,-.77),(.94,-.22),(.95,.06),(.96,-.33),(.97,.6),(.97,.28),(.98,-.36),(.96,.8),(.99,-.14),(.98,-.87),(1.01,.65),(1.02,-.06),(1.03,.5),(1.03,.03),(1.03,-.4),(1.04,.7),(1.05,-.69),(1.05,-.22),(1.03,.8),(1.07,.22),(1.08,-.02),(1.08,-.45),(1.09,.37),(1.1,-.31),(1.11,.15),(1.12,.43),(1.13,-.03),(1.13,-.44),(1.14,-.68),(1.14,-.6),(1.15,.62),(1.15,-.77),(1.16,.41),(1.16,.13),(1.18,-.3),(1.19,.39),(1.2,.09),(1.21,1.02),(1.22,.04),(1.23,.28),(1.24,-.4),(1.25,.33),(1.25,-.52),(1.26,-.6),(1.27,.53),(1.27,-.27),(1.28,.18),(1.27,.47),(1.31,-.22),(1.33,.04),(1.35,.33),(1.35,.01),(1.38,.19),(1.4,-.17),(1.42,.13),(1.43,-.08),(1.39,.33),(1.43,.03),(1.43,-.3),(1.4,-.03),(1.42,.27),(1.42,-.1),(1.45,-.14),(1.55,.15),(1.55,.11),(1.6,-.26),(1.64,-.25),(1.64,.31),(1.61,.25),(1.7,.2),(1.67,-.17),(1.55,-.68),(1.68,-.7),(1.84,.7),(1.14,-.87),(1.1,-1.2),(.92,-.22),(.95,-.12),(.9,-.34),(.88,-.24),(.72,.22),(.68,.24),
(-.95,.03),(-.98,.07),(-1.03,.02),(-.9,-.02),(-.85,.03),(-.93,-.05),(-.97,-.02),(-1.05,-.03),(-.9,.08),(-.83,-.2),(-.87,-.15),(-.9,-.22),(-.8,-.23),(-.93,-.27),(-.86,-.28),(-.78,-.18),(-.7,.02),(-.66,.04),(-.72,.1),(-.62,.02),(-.68,-.02),(-.9,.3),(-.85,.27),(-.8,.33),(-.88,.25),(-.77,.3),(-.75,-.15),(-.7,-.14),(-.8,-.38),(-.76,-.42),(-.85,-.4),(-.72,-.38),(-1.15,.15),(-1.2,.11),(-1.25,.12),(.7,.23),(.65,.2),(.72,.3),(.75,.25),(.68,.32),(.62,.25),(.78,.22),(.9,-.25),(.93,-.22),(.87,-.28),(.95,-.28),(.92,-.3),(.85,-.22),(.88,-.33),(.97,-.38),(.9,-.15),(1.05,-.05),(1.1,-.03),(1.15,-.08),(1.0,-.02),(1.1,.1),(1.05,.14),(.95,.15),(1,.1),(.6,-.12),(.65,-.1),(.7,-.15),(.55,-.2),(.6,-.3),(.65,-.33),(.68,-.28),(1.15,-.4),(1.2,-.35),(1.15,-.5),(1.2,-.55),(1.3,.35),(1.2,.25)]

fig = plt.figure(figsize=(W / 100, H / 100), dpi=100)
plt.rcParams["mathtext.fontset"] = "stix"

SANS = "Liberation Sans"
SERIF = "Liberation Serif"

# left,right,top,bottom in pixels of the full image
def add_box(left, right, top, bottom, size, ypad):
    ax = fig.add_axes([left / W, 1 - bottom / H, (right - left) / W, (bottom - top) / H])
    ax.tick_params(direction="in", length=10, width=1.2, top=True, right=True, labelsize=size)
    ax.tick_params(axis="x", pad=14)
    ax.tick_params(axis="y", pad=ypad)
    for s in ax.spines.values():
        s.set_linewidth(1.4)
    return ax

def put_text(px, py, txt, size=60, **kw):
    fig.text(px / W, 1 - py / H, txt, fontsize=size, family=SERIF, ha="center", va="center", **kw)

def line_panel(ax, adaptive, tr, ylim, yticks, yticklabels, legend_x):
    ax.plot(subcarrier, adaptive, color="#0000ff", lw=1.6, marker="^", ms=23, mfc="none", mew=1.6, label="Adaptive equalization (Nt=8*8)", clip_on=False)
    ax.plot(subcarrier, tr, color="#007f00", lw=1.6, marker="o", ms=23, mfc="none", mew=1.6, label="TR process", clip_on=False)
    ax.set_xlim(1, 8)
    ax.set_ylim(*ylim)
    ax.set_xticks(subcarrier)
    ax.set_yticks(yticks)
    ax.set_yticklabels(yticklabels)
    for lab in ax.get_xticklabels() + ax.get_yticklabels():
        lab.set_family(SANS)
    ax.legend(loc="upper left", bbox_to_anchor=(legend_x, 0.94), frameon=False, borderpad=0, borderaxespad=0,
              handlelength=1.75, handletextpad=0.3, labelspacing=0.43, prop={"family": SANS, "size": 41.5})

def scatter_panel(ax, points, lim, ber, mse, text_x, ber_y, mse_y):
    xs = [p[0] for p in points]
    ys = [p[1] for p in points]
    ax.scatter(xs, ys, s=175, color="#0000ff", linewidths=0)
    ax.set_xlim(-lim, lim)
    ax.set_ylim(-lim, lim)
    ax.set_xticks(scatter_ticks)
    ax.set_yticks(scatter_ticks)
    ax.set_xticklabels([str(t) for t in scatter_ticks])
    ax.set_yticklabels([str(t) for t in scatter_ticks])
    for lab in ax.get_xticklabels() + ax.get_yticklabels():
        lab.set_family(SANS)
    ax.text(text_x, ber_y, r"$\mathit{BER}\,=" + ber + r"\%$", fontsize=58, va="baseline")
    ax.text(text_x, mse_y, r"$\mathit{MSE}_{\mathit{out}}=-" + mse + r"\mathrm{dB}$", fontsize=58, va="baseline")

ax_a = add_box(244, 1603, 64, 1079, 41, 8)
line_panel(ax_a, ber_adaptive, ber_tr, (0, 0.14), ber_ticks, ber_tick_labels, 0.314)
ax_b = add_box(1971, 3320, 66, 1075, 41, 8)
line_panel(ax_b, mse_adaptive, mse_tr, (-6.5, 0), mse_ticks, [str(t) for t in mse_ticks], 0.322)

ax_c = add_box(311, 1484, 1468, 2641, 44, 14)
scatter_panel(ax_c, tr_sub1, 2.6, "12.4", "1.88", -1.28, 2.13, 1.62)
ax_d = add_box(1998, 3157, 1477, 2637, 44, 14)
scatter_panel(ax_d, ae_sub1, 2.6, "2.1", "5.28", -1.17, 2.18, 1.62)
ax_e = add_box(327, 1489, 2990, 4153, 44, 14)
scatter_panel(ax_e, tr_sub7, 2.53, "0.3", "4.37", -1.24, 2.08, 1.56)
ax_f = add_box(2029, 3194, 2991, 4156, 44, 14)
scatter_panel(ax_f, ae_sub7, 2.55, "0.1", "6.16", -1.06, 2.12, 1.58)

put_text(65, 540, "BER", size=58, rotation=90)
put_text(1849, 539, "Output MSE (dB)", size=58, rotation=90)
put_text(971, 1191, "Subcarrier index", size=57.5)
put_text(2730, 1204, "Subcarrier index", size=57.5)
put_text(952, 1270, "(a)", size=60)
put_text(2730, 1278, "(b)", size=60)

put_text(911, 1431, "TR process for subcarrier 1", size=57.5)
put_text(2586, 1431, "Adaptive equalization for subcarrier 1", size=57.5)
put_text(902, 2947, "TR process for subcarrier 7", size=57.5)
put_text(2602, 2947, "Adaptive equalization for subcarrier 7", size=57.5)

put_text(902, 2765, "(c)", size=60)
put_text(2599, 2775, "(d)", size=60)
put_text(912, 4283, "(e)", size=60)
put_text(2622, 4278, "(f)", size=60)

plt.savefig("out.png", dpi=100)
